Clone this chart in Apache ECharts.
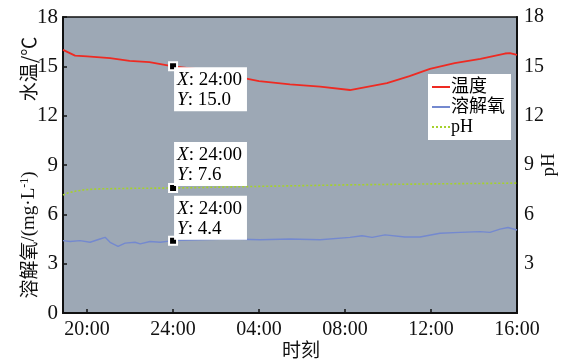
<!DOCTYPE html>
<html>
<head>
<meta charset="utf-8">
<script src="https://cdn.jsdelivr.net/npm/echarts@6/dist/echarts.min.js"></script>
<style>
  html, body { margin: 0; padding: 0; background: #ffffff; }
  #chart { width: 572px; height: 361px; }
</style>
</head>
<body>
<div id="chart"></div>
<script>
// Time axis: hours counted from midnight of the first day (24 = midnight, 40 = 16:00 next day)
const xTickHours = [20, 24, 28, 32, 36, 40];
const xTickLabels = ['20:00', '24:00', '04:00', '08:00', '12:00', '16:00'];
const yTicks = [0, 3, 6, 9, 12, 15, 18];

// Water temperature (℃)
const tempHours = [18.88, 19.44, 20, 21.07, 21.98, 22.9, 24, 25.26, 26.65, 28, 29.44, 30.84, 32.23, 33.95, 35.0, 35.95, 37.1, 38.3, 39.44, 39.67, 40];
const tempValues = [16.0, 15.65, 15.6, 15.5, 15.33, 15.25, 15.0, 14.82, 14.45, 14.1, 13.9, 13.76, 13.56, 13.98, 14.4, 14.85, 15.2, 15.45, 15.78, 15.8, 15.69];

// Dissolved oxygen (mg·L⁻¹)
const doHours = [18.88, 19.21, 19.67, 20.14, 20.6, 20.84, 21.07, 21.44, 21.77, 22.23, 22.47, 22.93, 23.4, 24,
                 25.26, 26.65, 28.05, 29.44, 30.84, 32.23, 32.79, 33.26, 33.86, 34.79, 35.49, 36.42, 37.35, 38.28, 38.74, 39.21, 39.58, 40];
const doValues = [4.4, 4.35, 4.4, 4.3, 4.5, 4.6, 4.3, 4.05, 4.25, 4.3, 4.2, 4.35, 4.3, 4.4,
                  4.45, 4.5, 4.45, 4.5, 4.45, 4.6, 4.7, 4.6, 4.75, 4.62, 4.62, 4.85, 4.9, 4.95, 4.9, 5.1, 5.2, 5.05];

// pH
const phHours = [18.88, 19.1, 19.44, 19.9, 20.6, 22, 24, 28, 32, 36, 40];
const phValues = [7.18, 7.3, 7.4, 7.5, 7.55, 7.58, 7.6, 7.7, 7.79, 7.85, 7.9];

// Readout points at 24:00
const markHour = 24;
const markTemp = 15.0;
const markPH = 7.6;
const markDO = 4.4;

const seriesNames = ['温度', '溶解氧', 'pH'];

const SERIF = '"Liberation Serif", "Noto Sans CJK SC", serif';
const CJK = '"Noto Sans CJK SC", "Liberation Serif", serif';

function pairs(xs, ys) { return xs.map((x, i) => [x, ys[i]]); }
function hourLabel(h) {
  const i = xTickHours.indexOf(h);
  return i >= 0 ? xTickLabels[i] : '';
}

function readout(value, pos) {
  return {
    symbol: 'rect',
    symbolSize: 8,
    z: 10,
    itemStyle: { color: '#000', borderColor: '#fff', borderWidth: 2 },
    data: [{ coord: [markHour, value] }],
    label: {
      show: true,
      position: pos,
      align: 'left',
      verticalAlign: 'top',
      backgroundColor: '#ffffff',
      padding: [3, 5, 1, 3],
      formatter: '{i|X}{t|: ' + hourLabel(markHour) + '}\n{i|Y}{t|: ' + value.toFixed(1) + '}',
      rich: {
        i: { fontFamily: SERIF, fontStyle: 'italic', fontSize: 19, color: '#000', lineHeight: 20 },
        t: { fontFamily: SERIF, fontSize: 19, color: '#000', lineHeight: 20 }
      }
    }
  };
}

const chart = echarts.init(document.getElementById('chart'), null, { renderer: 'canvas' });

const option = {
  animation: false,
  backgroundColor: '#ffffff',
  grid: {
    left: 63, right: 55, top: 17, bottom: 48,
    show: true,
    backgroundColor: '#9da8b5',
    borderColor: '#111',
    borderWidth: 1.5
  },
  legend: {
    orient: 'vertical',
    left: 428,
    top: 74,
    width: 89,
    backgroundColor: '#ffffff',
    padding: [4, 6, 4, 3],
    itemGap: 2,
    itemWidth: 18,
    itemHeight: 14,
    data: seriesNames,
    itemStyle: { opacity: 0 },
    textStyle: { fontFamily: SERIF, fontSize: 18, color: '#000', padding: [0, 0, 0, -4] }
  },
  xAxis: {
    type: 'value',
    min: tempHours[0],
    max: 40,
    splitLine: { show: false },
    axisLine: { show: true, lineStyle: { color: '#111', width: 2 } },
    axisTick: { show: true, inside: true, length: 4, customValues: xTickHours, lineStyle: { color: '#111', width: 1.5 } },
    axisLabel: {
      customValues: xTickHours,
      formatter: v => hourLabel(v),
      fontFamily: SERIF, fontSize: 20, color: '#111', margin: 7
    }
  },
  yAxis: [
    {
      type: 'value', min: 0, max: 18, interval: 3, position: 'left',
      splitLine: { show: false },
      axisLine: { show: true, lineStyle: { color: '#111', width: 2 } },
      axisTick: { show: true, inside: true, length: 4, lineStyle: { color: '#111', width: 1.5 } },
      axisLabel: { fontFamily: SERIF, fontSize: 21, color: '#111', margin: 5 }
    },
    {
      type: 'value', min: 0, max: 18, interval: 3, position: 'right',
      splitLine: { show: false },
      axisLine: { show: true, lineStyle: { color: '#111', width: 2 } },
      axisTick: { show: false },
      axisLabel: {
        fontFamily: SERIF, fontSize: 20, color: '#111', margin: 7,
        formatter: v => (v === 0 ? '' : String(v))
      }
    }
  ],
  series: [
    {
      name: seriesNames[0], type: 'line', yAxisIndex: 0,
      data: pairs(tempHours, tempValues),
      showSymbol: false, symbol: 'none',
      lineStyle: { color: '#ee2a22', width: 1.8 },
      itemStyle: { color: '#ee2a22' },
      markPoint: readout(markTemp, [6, 6])
    },
    {
      name: seriesNames[1], type: 'line', yAxisIndex: 0,
      data: pairs(doHours, doValues),
      showSymbol: false, symbol: 'none',
      lineStyle: { color: '#7489cf', width: 1.4 },
      itemStyle: { color: '#7489cf' },
      markPoint: readout(markDO, [6, -40])
    },
    {
      name: seriesNames[2], type: 'line', yAxisIndex: 1,
      data: pairs(phHours, phValues),
      showSymbol: false, symbol: 'none',
      lineStyle: { color: '#a6d12c', width: 1.6, type: [2, 2] },
      itemStyle: { color: '#a6d12c' },
      markPoint: readout(markPH, [6, -41])
    }
  ],
  graphic: [
    {
      type: 'text', x: 29, y: 69, rotation: Math.PI / 2,
      style: { text: '水温/℃', font: '19px ' + CJK, fill: '#111', align: 'center', verticalAlign: 'middle' }
    },
    {
      type: 'text', x: 29, y: 235, rotation: Math.PI / 2,
      style: {
        text: '{c|溶解氧}{a|/(mg·L}{s|-1}{a|)}',
        align: 'center', verticalAlign: 'middle',
        rich: {
          c: { fontFamily: CJK, fontSize: 19, fill: '#111', color: '#111' },
          a: { fontFamily: SERIF, fontSize: 19, fill: '#111', color: '#111' },
          s: { fontFamily: SERIF, fontSize: 12, fill: '#111', color: '#111', verticalAlign: 'top', padding: [0, 0, 8, 0] }
        }
      }
    },
    {
      type: 'text', x: 549, y: 165, rotation: Math.PI / 2,
      style: { text: 'pH', font: '19px ' + SERIF, fill: '#111', align: 'center', verticalAlign: 'middle' }
    },
    {
      type: 'text', x: 301, y: 350,
      style: { text: '时刻', font: '19px ' + CJK, fill: '#111', align: 'center', verticalAlign: 'middle' }
    }
  ]
};

chart.setOption(option);
</script>
</body>
</html>
